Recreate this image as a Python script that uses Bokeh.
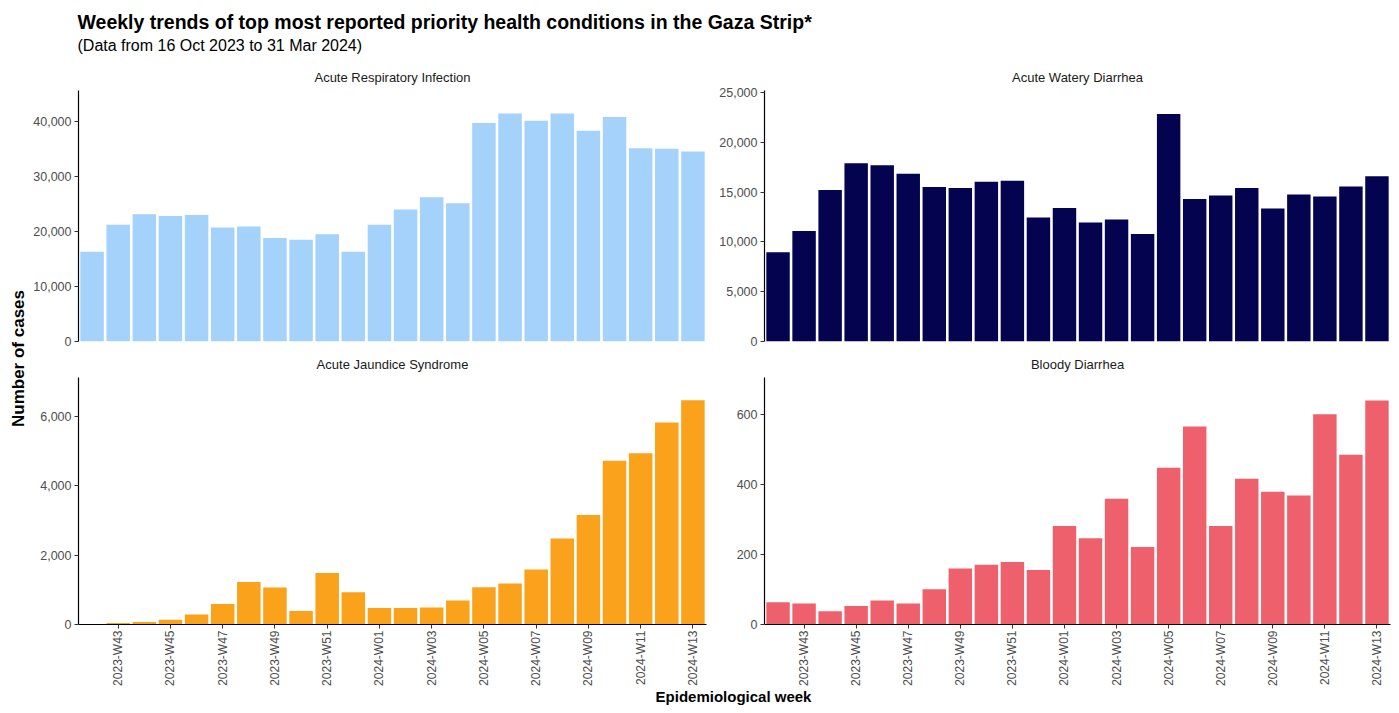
import math
from bokeh.plotting import figure
from bokeh.layouts import column, row
from bokeh.models import Range1d, FixedTicker, NumeralTickFormatter, ColumnDataSource
from bokeh.embed import file_html
from bokeh.resources import INLINE
from bokeh.core.properties import value

# ---------------- data ----------------
weeks = ["2023-W42", "2023-W43", "2023-W44", "2023-W45", "2023-W46", "2023-W47",
         "2023-W48", "2023-W49", "2023-W50", "2023-W51", "2023-W52", "2024-W01",
         "2024-W02", "2024-W03", "2024-W04", "2024-W05", "2024-W06", "2024-W07",
         "2024-W08", "2024-W09", "2024-W10", "2024-W11", "2024-W12", "2024-W13"]

ari = [16300, 21200, 23100, 22800, 23000, 20700, 20900, 18800, 18500, 19500, 16300, 21200,
       24000, 26200, 25100, 39700, 41400, 40100, 41400, 38300, 40800, 35100, 35000, 34500]
awd = [8950, 11100, 15200, 17900, 17700, 16850, 15500, 15400, 16050, 16150, 12450, 13400,
       11950, 12250, 10800, 22850, 14300, 14650, 15400, 13350, 14750, 14550, 15550, 16600]
ajs = [0, 45, 75, 140, 290, 590, 1230, 1070, 390, 1490, 930, 475,
       475, 490, 690, 1075, 1180, 1590, 2480, 3160, 4730, 4940, 5830, 6470]
bd = [64, 60, 38, 53, 69, 60, 101, 160, 171, 179, 156, 282,
      247, 360, 222, 449, 567, 282, 417, 380, 369, 602, 486, 641]

panel_titles = ["Acute Respiratory Infection", "Acute Watery Diarrhea",
                "Acute Jaundice Syndrome", "Bloody Diarrhea"]
colors = ["#A5D2FB", "#03034F", "#FAA21B", "#EE606C"]
tick_weeks = weeks[1::2]

title_text = "Weekly trends of top most reported priority health conditions in the Gaza Strip*"
subtitle_text = "(Data from 16 Oct 2023 to 31 Mar 2024)"
ylabel_text = "Number of cases"
xlabel_text = "Epidemiological week"

FONT = "Liberation Sans"


def panel(vals, color, ymax, step, title, width, bl, br, height, bt, bb, show_x):
    n = len(weeks)
    p = figure(width=width, height=height,
               x_range=Range1d(-0.52, n - 0.48), y_range=Range1d(0, ymax),
               output_backend="svg", toolbar_location=None,
               min_border_left=bl, min_border_right=br,
               min_border_top=bt, min_border_bottom=bb, title=title)
    src = ColumnDataSource(dict(x=list(range(n)), top=vals, week=weeks))
    p.vbar(x="x", top="top", bottom=0, width=0.9, source=src,
           fill_color=color, line_color=None)
    p.grid.visible = False
    p.outline_line_color = None
    p.background_fill_color = "white"
    p.border_fill_color = "white"
    p.title.align = "center"
    p.title.text_font = FONT
    p.title.text_font_size = "13px"
    p.title.text_font_style = "normal"
    p.title.text_color = "#1A1A1A"
    p.title.standoff = 12

    ya = p.yaxis[0]
    ya.ticker = FixedTicker(ticks=list(range(0, ymax, step)))
    ya.formatter = NumeralTickFormatter(format="0,0")
    ya.axis_line_color = "black"
    ya.axis_line_width = 1.2
    ya.major_tick_line_color = "#333333"
    ya.major_tick_out = 4
    ya.major_tick_in = 0
    ya.minor_tick_line_color = None
    ya.major_label_text_font = FONT
    ya.major_label_text_font_size = "12.5px"
    ya.major_label_text_color = "#4D4D4D"
    ya.major_label_standoff = 3

    xa = p.xaxis[0]
    if show_x:
        idx = [weeks.index(w) for w in tick_weeks]
        xa.ticker = FixedTicker(ticks=idx)
        xa.major_label_overrides = {i: weeks[i] for i in idx}
        xa.major_label_orientation = math.pi / 2
        xa.axis_line_color = "black"
        xa.axis_line_width = 1.2
        xa.major_tick_line_color = "#333333"
        xa.major_tick_out = 4
        xa.major_tick_in = 0
        xa.minor_tick_line_color = None
        xa.major_label_text_font = FONT
        xa.major_label_text_font_size = "12px"
        xa.major_label_text_color = "#4D4D4D"
        xa.major_label_standoff = 2
    else:
        xa.visible = False
    return p


def text_fig(width, height):
    p = figure(width=width, height=height, x_range=Range1d(0, width), y_range=Range1d(0, height),
               output_backend="svg", toolbar_location=None, x_axis_type=None, y_axis_type=None,
               title=None, min_border=0, min_border_left=0, min_border_right=0,
               min_border_top=0, min_border_bottom=0)
    p.grid.visible = False
    p.outline_line_color = None
    return p


LW, RW, YW = 686, 675, 30
TOTAL_W = YW + LW + RW
HEAD_H = 58
header = text_fig(TOTAL_W, HEAD_H)
header.text(x=[77], y=[HEAD_H - 21], text=[title_text], text_font=value(FONT), text_font_size="19.5px",
            text_font_style="bold", text_color="black", text_baseline="middle", text_align="left")
header.text(x=[77], y=[HEAD_H - 45], text=[subtitle_text], text_font=value(FONT), text_font_size="16px",
            text_color="black", text_baseline="middle", text_align="left")

TOP_H, BOT_H = 290, 340
ylab = text_fig(YW, TOP_H + BOT_H)
ylab.text(x=[18], y=[TOP_H + BOT_H - 300], text=[ylabel_text], angle=math.pi / 2, text_font=value(FONT),
          text_font_size="17px", text_font_style="bold", text_color="black",
          text_baseline="middle", text_align="center")

tl = panel(ari, colors[0], 45600, 10000, panel_titles[0], LW, 46, 10, TOP_H, 32, 7, False)
tr = panel(awd, colors[1], 25200, 5000, panel_titles[1], RW, 45, 1, TOP_H, 32, 7, False)
bl = panel(ajs, colors[2], 7130, 2000, panel_titles[2], LW, 46, 10, BOT_H, 28, 61, True)
br = panel(bd, colors[3], 707, 200, panel_titles[3], RW, 45, 1, BOT_H, 28, 61, True)

FOOT_H = 17
footer = text_fig(TOTAL_W, FOOT_H)
footer.text(x=[733], y=[FOOT_H - 8], text=[xlabel_text], text_font=value(FONT), text_font_size="15px",
            text_font_style="bold", text_color="black", text_baseline="middle", text_align="center")

layout = column(header, row(ylab, column(tl, bl), column(tr, br)), footer)

open("out.html", "w").write(file_html(layout, INLINE))
